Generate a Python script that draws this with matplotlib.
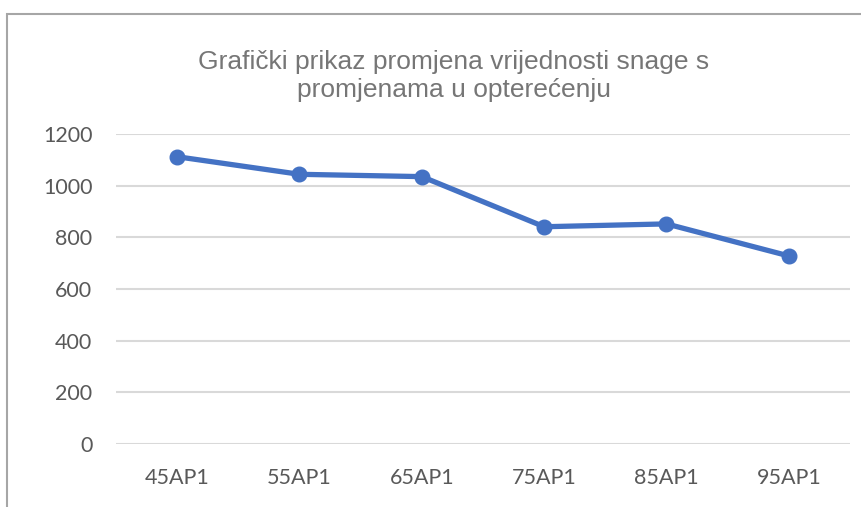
import matplotlib.pyplot as plt
from matplotlib.patches import Rectangle

categories = ['45AP1', '55AP1', '65AP1', '75AP1', '85AP1', '95AP1']
power = [1112, 1044, 1035, 841, 852, 728]
y_ticks = [0, 200, 400, 600, 800, 1000, 1200]

W, H = 862, 507
fig = plt.figure(figsize=(W / 100, H / 100), dpi=100)
fig.patch.set_facecolor('white')

# chart frame (left and top edges only show)
fig.patches.append(Rectangle((7.5 / W, -0.1), 1.2, 1.1 - 13.5 / H,
                             transform=fig.transFigure, fill=False,
                             edgecolor='#a6a6a6', linewidth=1.5))

ax = fig.add_axes([116 / W, 1 - 444 / H, (850 - 116) / W, (444 - 134) / H])
ax.plot(categories, power, color='#4472c4', linewidth=3.8,
        marker='o', markersize=10.5, solid_capstyle='round', zorder=3)

ax.set_xlim(-0.5, len(categories) - 0.5)
ax.set_ylim(0, 1200)
ax.set_yticks(y_ticks)
ax.grid(axis='y', color='#d9d9d9', linewidth=1.5)
ax.set_axisbelow(True)
for s in ax.spines.values():
    s.set_visible(False)
ax.tick_params(length=0, labelsize=15.5, labelcolor='#595959')
ax.tick_params(axis='y', pad=17)
ax.tick_params(axis='x', pad=17)
for lab in ax.get_xticklabels() + ax.get_yticklabels():
    lab.set_family('Lato')

fig.text(454 / W, 1 - 76 / H,
         'Grafički prikaz promjena vrijednosti snage s\npromjenama u opterećenju',
         ha='center', va='center', fontsize=19, color='#767676',
         family='Liberation Sans', linespacing=1.2)

fig.savefig('out.png', dpi=100)
